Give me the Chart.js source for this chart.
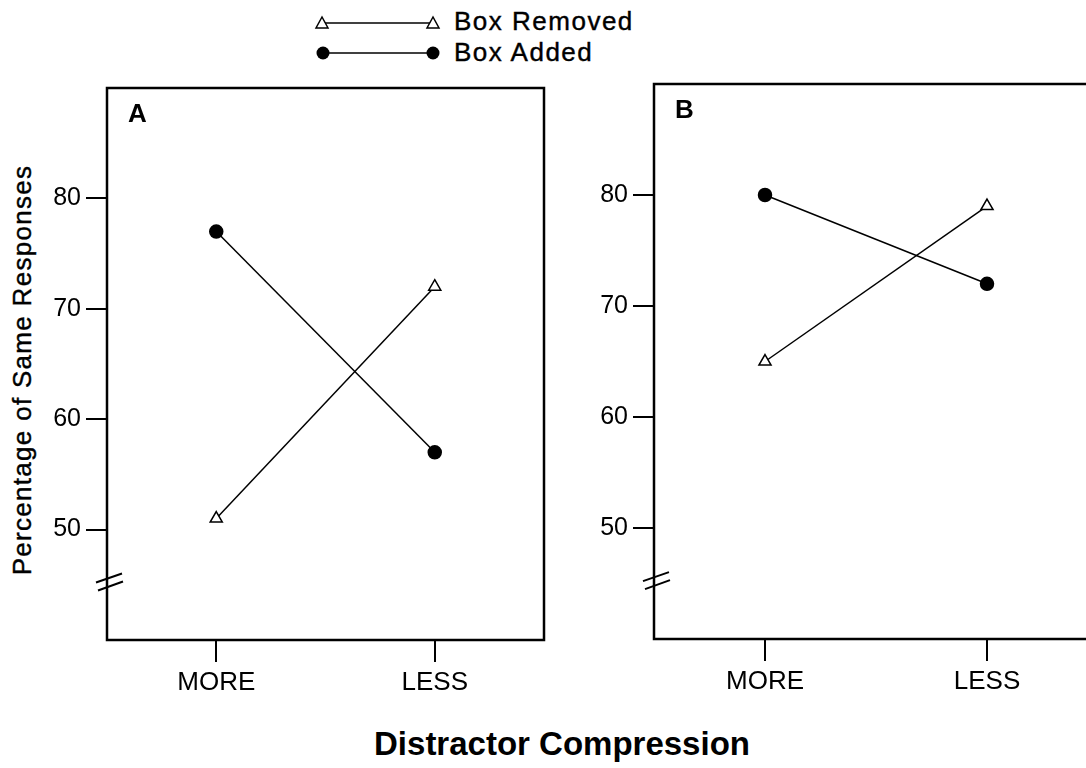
<!DOCTYPE html>
<html>
<head>
<meta charset="utf-8">
<script src="https://cdn.jsdelivr.net/npm/chart.js@4.4.1/dist/chart.umd.min.js"></script>
<style>
  body { margin: 0; width: 1086px; height: 768px; overflow: hidden; background: #fff; position: relative;
         font-family: "Liberation Sans", Arial, Helvetica, sans-serif; color: #000; }
  canvas { position: absolute; top: 0; }
  #chartA { left: 0; }
  #chartB { left: 560px; }
  .leg { position: absolute; left: 312px; font-size: 26px; letter-spacing: 1.5px; display: flex; align-items: center;
         -webkit-text-stroke: 0.4px #000; }
  .leg svg { margin-right: 12px; }
  #ytitle { position: absolute; left: 22px; top: 370px; font-size: 26px; letter-spacing: 1.3px; white-space: nowrap;
            -webkit-text-stroke: 0.4px #000; transform: translate(-50%, -50%) rotate(-90deg); }
  #xtitle { position: absolute; left: 562px; top: 744px; font-size: 33px; font-weight: bold;
            white-space: nowrap; transform: translate(-50%, -50%); }
</style>
</head>
<body>
<div class="leg" style="top:6px">
  <svg width="130" height="30"><line x1="10" y1="16" x2="121" y2="16" stroke="#000" stroke-width="1.5"/>
    <polygon points="10,10 4,21 16,21" fill="#fff" stroke="#000" stroke-width="1.5"/>
    <polygon points="121,10 115,21 127,21" fill="#fff" stroke="#000" stroke-width="1.5"/></svg>
  <span>Box Removed</span>
</div>
<div class="leg" style="top:37px">
  <svg width="130" height="30"><line x1="11" y1="15" x2="121" y2="15" stroke="#000" stroke-width="1.5"/>
    <circle cx="11" cy="15" r="6.5" fill="#000"/><circle cx="121" cy="15" r="6.5" fill="#000"/></svg>
  <span>Box Added</span>
</div>
<div id="ytitle">Percentage of Same Responses</div>
<div id="xtitle">Distractor Compression</div>
<canvas id="chartA" width="560" height="700"></canvas>
<canvas id="chartB" width="554" height="700"></canvas>
<script>
// values
const categories = ["MORE", "LESS"];
const yTicks = [50, 60, 70, 80];
const removedA = [51, 72];
const addedA = [77, 57];
const removedB = [65, 79];
const addedB = [80, 72];
const breakAt = 45.3;

Chart.defaults.font.family = '"Liberation Sans", Arial, Helvetica, sans-serif';
Chart.defaults.color = "#000";

// box round the plot, panel letter and the axis break
const panelDeco = {
  id: "panelDeco",
  afterDraw(chart, args, opts) {
    const { ctx, chartArea: a } = chart;
    const y = chart.scales.y.getPixelForValue(breakAt);
    ctx.save();
    ctx.strokeStyle = "#000";
    ctx.lineWidth = 2.5;
    ctx.strokeRect(a.left, a.top, a.right - a.left, a.bottom - a.top);
    ctx.lineWidth = 2;
    ctx.beginPath();
    ctx.moveTo(a.left - 11, y + 1); ctx.lineTo(a.left + 15, y - 8);
    ctx.moveTo(a.left - 9, y + 9); ctx.lineTo(a.left + 16, y);
    ctx.stroke();
    ctx.font = "bold 26px " + Chart.defaults.font.family;
    ctx.fillStyle = "#000";
    ctx.textBaseline = "alphabetic";
    ctx.fillText(opts.letter, a.left + 21, a.top + 34);
    ctx.restore();
  }
};

function makePanel(id, removed, added, letter, yWidth, xHeight, top) {
  new Chart(document.getElementById(id), {
    type: "line",
    data: {
      labels: categories,
      datasets: [{
        label: "Box Removed",
        data: removed,
        borderColor: "#000",
        borderWidth: 1.5,
        pointStyle: "triangle",
        pointRadius: 7,
        pointBackgroundColor: "#fff",
        pointBorderColor: "#000",
        pointBorderWidth: 1.5
      }, {
        label: "Box Added",
        data: added,
        borderColor: "#000",
        borderWidth: 1.5,
        pointStyle: "circle",
        pointRadius: 6.5,
        pointBackgroundColor: "#000",
        pointBorderColor: "#000"
      }]
    },
    options: {
      responsive: false,
      animation: false,
      layout: { padding: { top: top, right: 16, left: 0, bottom: 0 } },
      plugins: { legend: { display: false }, tooltip: { enabled: false }, panelDeco: { letter } },
      scales: {
        x: {
          offset: true,
          afterFit: s => { s.height = xHeight; },
          border: { display: false },
          grid: { drawOnChartArea: false, tickLength: 22, color: "#000", lineWidth: 2, offset: false },
          ticks: { font: { size: 26 }, padding: 5, maxRotation: 0 }
        },
        y: {
          min: 40,
          max: 90,
          afterFit: s => { s.width = yWidth; },
          afterBuildTicks: s => { s.ticks = yTicks.map(v => ({ value: v })); },
          border: { display: false },
          grid: { drawOnChartArea: false, tickLength: 21, color: "#000", lineWidth: 2 },
          ticks: { font: { size: 25 }, padding: 5 }
        }
      }
    },
    plugins: [panelDeco]
  });
}

makePanel("chartA", removedA, addedA, "A", 107, 60, 88);
makePanel("chartB", removedB, addedB, "B", 94, 61, 84);
</script>
</body>
</html>
